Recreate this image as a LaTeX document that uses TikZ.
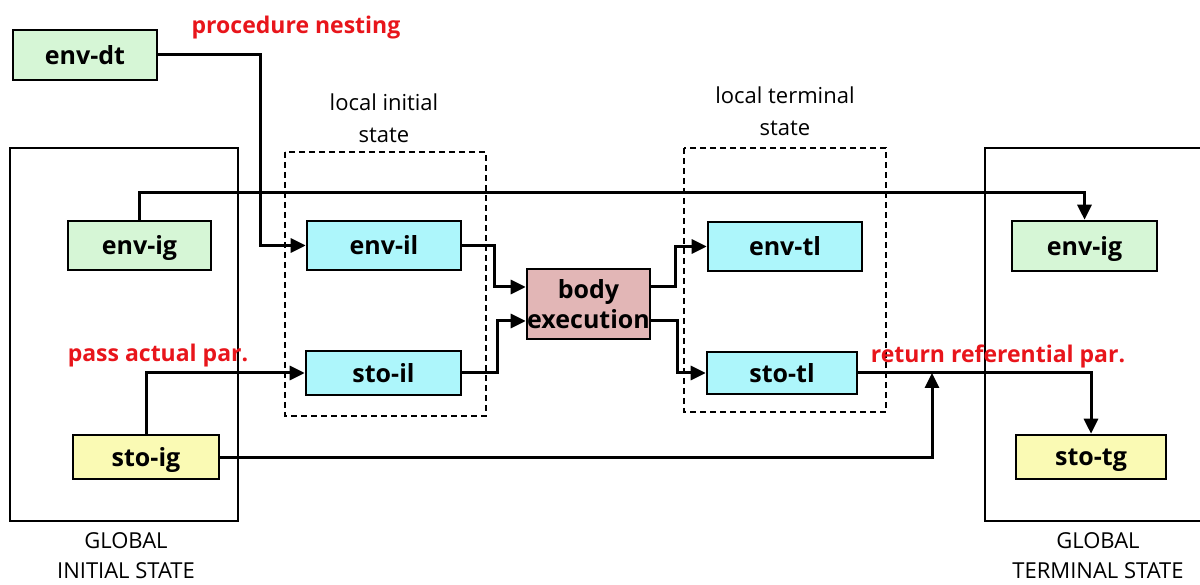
\documentclass[tikz,border=0pt]{standalone}
\usepackage{fontspec}
\setmainfont{Open Sans}
\usetikzlibrary{arrows.meta}
\definecolor{gfill}{HTML}{D6F6D6}
\definecolor{cfill}{HTML}{ADF6FB}
\definecolor{yfill}{HTML}{FAFAB4}
\definecolor{pfill}{HTML}{E2B6B6}
\definecolor{redtxt}{HTML}{E8151B}
\tikzset{
  box/.style={draw=black, line width=2.6pt, inner sep=0pt, font=\fontsize{25}{31}\selectfont\bfseries, align=center, text depth=0pt},
  gbox/.style={box, fill=gfill},
  cbox/.style={box, fill=cfill},
  ybox/.style={box, fill=yfill},
  pbox/.style={box, fill=pfill},
  frame/.style={draw=black, line width=2.6pt},
  dframe/.style={draw=black, line width=2pt, dash pattern=on 6pt off 4pt},
  conn/.style={draw=black, line width=3pt, -{Triangle[length=15pt,width=14pt]}},
  redlbl/.style={text=redtxt, font=\fontsize{23}{27}\selectfont\bfseries},
  lbl/.style={font=\fontsize{22}{32}\selectfont, align=center},
  blbl/.style={font=\fontsize{22}{30}\selectfont, align=center, inner sep=1pt}
}
\begin{document}
\begin{tikzpicture}[x=1pt,y=-1pt]
\useasboundingbox (0,0) rectangle (1200,585);
% frames
\draw[frame] (10,148) rectangle (238,521);
\draw[frame] (1210,148) -- (985,148) -- (985,521) -- (1210,521);
\draw[dframe] (285,152) rectangle (486,416);
\draw[dframe] (684,148) rectangle (886,412);
% labels
\node[blbl] (gi) at (126,556) {GLOBAL\\INITIAL STATE};
\node[blbl] (gt) at (1098,556) {GLOBAL\\TERMINAL STATE};
\node[lbl] (li) at (384,118) {local initial\\state};
\node[lbl] (lt) at (785,111) {local terminal\\state};
\node[redlbl] (pn) at (296,28) {procedure nesting};
\node[redlbl] (pa) at (158,356) {pass actual par.};
% nodes
\node[gbox, minimum width=144pt, minimum height=50pt] (envdt) at (85,55) {env-dt};
\node[gbox, minimum width=143pt, minimum height=49pt] (envig) at (139.5,245.5) {env-ig};
\node[ybox, minimum width=146pt, minimum height=44pt] (stoig) at (146,457) {sto-ig};
\node[cbox, minimum width=154pt, minimum height=49pt] (envil) at (384,245.5) {env-il};
\node[cbox, minimum width=155pt, minimum height=44pt] (stoil) at (383.5,373) {sto-il};
\node[pbox, minimum width=123pt, minimum height=70pt] (body) at (588.5,304) {body\\[-1pt]execution};
\node[cbox, minimum width=154pt, minimum height=49pt] (envtl) at (785,246.5) {env-tl};
\node[cbox, minimum width=150pt, minimum height=42pt] (stotl) at (782,373) {sto-tl};
\node[gbox, minimum width=145pt, minimum height=50pt] (envigt) at (1084.5,246) {env-ig};
\node[ybox, minimum width=150pt, minimum height=44pt] (stotg) at (1091,457) {sto-tg};
\node[redlbl] (rr) at (998,356) {return referential par.};
% connectors
\coordinate (join) at (932,373);
\draw[conn] (envdt.east) -- (260,55) -- (260,245.5) -- (envil.west);
\draw[conn] (envig.north) -- (139.5,193) -- (1084.5,193) -- (envigt.north);
\draw[conn] (envil.east) -- (494,245.5) -- (494,287) -- (body.west |- 0,287);
\draw[conn] (stoil.east) -- (497,373) -- (497,321) -- (body.west |- 0,321);
\draw[conn] (body.east |- 0,287) -- (675,287) -- (675,246.5) -- (envtl.west);
\draw[conn] (body.east |- 0,321) -- (677,321) -- (677,373) -- (stotl.west);
\draw[conn] (stoig.north) -- (146,373) -- (stoil.west);
\draw[conn] (stoig.east) -- (932,457) -- (join);
\draw[conn] (stotl.east) -- (1091,373) -- (stotg.north);
\end{tikzpicture}
\end{document}
